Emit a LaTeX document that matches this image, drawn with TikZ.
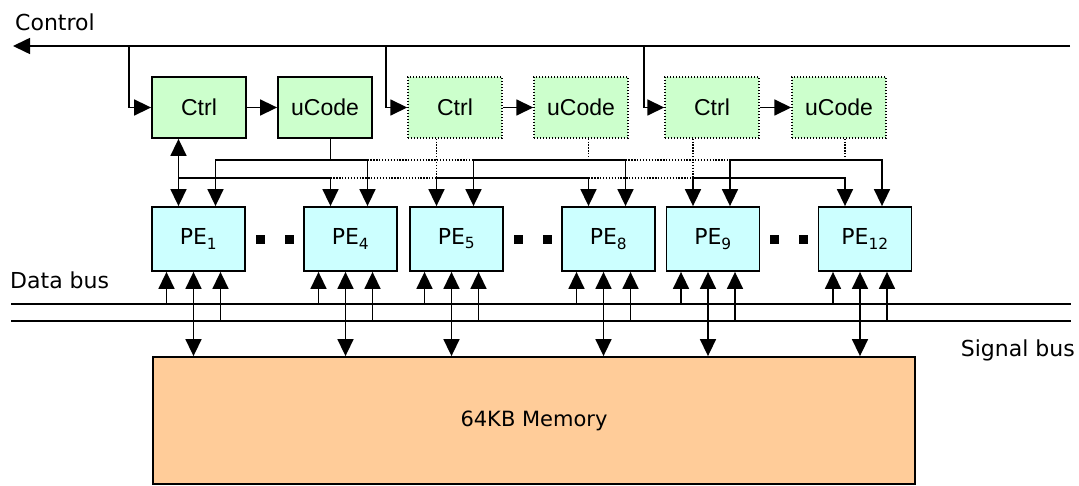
\documentclass[tikz,border=0pt]{standalone}
\usepackage{fontspec}
\setmainfont{DejaVu Sans}
\newfontfamily\arialfont{Liberation Sans}
\usepackage{tikz}
\usetikzlibrary{calc}
\usetikzlibrary{arrows.meta}
\definecolor{ctrlgreen}{HTML}{CCFFCC}
\definecolor{pecyan}{HTML}{CCFFFF}
\definecolor{memorange}{HTML}{FFCC99}
\tikzset{
  wire/.style={line width=1.6pt},
  ghostwire/.style={line width=1.3pt, dash pattern=on 1.3pt off 1.6pt},
  tip/.style={-{Triangle[length=17pt,width=16pt]}},
  tips/.style={{Triangle[length=17pt,width=16pt]}-{Triangle[length=17pt,width=16pt]}},
  ctrlbox/.style={draw, line width=1.8pt, fill=ctrlgreen, minimum width=94pt, minimum height=61pt, inner sep=0pt, font=\arialfont\fontsize{23}{26}\selectfont},
  ghostbox/.style={ctrlbox, line width=1.4pt, dash pattern=on 1.4pt off 1.6pt},
  pebox/.style={draw, line width=1.8pt, fill=pecyan, minimum width=93pt, minimum height=64pt, inner sep=0pt, font=\fontsize{22}{24}\selectfont},
  membox/.style={draw, line width=1.8pt, fill=memorange, minimum width=762pt, minimum height=127pt, font=\fontsize{21}{24}\selectfont},
  lbl/.style={inner sep=0pt, font=\fontsize{22}{24}\selectfont},
  sqdot/.style={fill, minimum size=9pt, inner sep=0pt},
}
% three taps under one PE: data bus, memory, signal bus
\newcommand{\pelinks}[1]{
  \coordinate (#1l) at ($(#1.south)+(-32,0)$);
  \coordinate (#1m) at ($(#1.south)+(-5,0)$);
  \coordinate (#1r) at ($(#1.south)+(22,0)$);
  \draw[wire,tip] (#1l |- dbusL) -- (#1l);
  \draw[wire,tips] (#1m) -- (#1m |- mem.north);
  \draw[wire,tip] (#1r |- sbusL) -- (#1r);}

\begin{document}
\begin{tikzpicture}[x=1pt,y=-1pt]
  \useasboundingbox (0,0) rectangle (1079,486);

  % buses
  \coordinate (ctlR) at (1070,46);
  \coordinate (ctlL) at (13,46);
  \coordinate (dbusL) at (11,304);
  \coordinate (dbusR) at (1071,304);
  \coordinate (sbusL) at (11,321);
  \coordinate (sbusR) at (1071,321);
  \coordinate (ubus) at (0,160);
  \coordinate (kbus) at (0,178);
  \draw[wire,tip] (ctlR) -- (ctlL);
  \draw[wire] (dbusL) -- (dbusR);
  \draw[wire] (sbusL) -- (sbusR);
  \node[lbl,anchor=base west] (ctltext) at (15,31) {Control};
  \node[lbl,anchor=base west] (dbustext) at (10,289) {Data bus};
  \node[lbl,anchor=base east] (sbustext) at (1075,356) {Signal bus};

  % sequencers
  \node[ctrlbox] (ctrl1) at (199,107.5) {Ctrl};
  \node[ctrlbox] (ucode1) at (325,107.5) {uCode};
  \node[ghostbox] (ctrl2) at (455,107.5) {Ctrl};
  \node[ghostbox] (ucode2) at (581,107.5) {uCode};
  \node[ghostbox] (ctrl3) at (712,107.5) {Ctrl};
  \node[ghostbox] (ucode3) at (839,107.5) {uCode};

  % PE row and memory
  \node[pebox] (pe1) at (198.5,239) {PE\textsubscript{1}};
  \node[pebox] (pe4) at (350.5,239) {PE\textsubscript{4}};
  \node[pebox] (pe5) at (456.5,239) {PE\textsubscript{5}};
  \node[pebox] (pe8) at (608.5,239) {PE\textsubscript{8}};
  \node[pebox] (pe9) at (713,239) {PE\textsubscript{9}};
  \node[pebox] (pe12) at (865,239) {PE\textsubscript{12}};
  \node[membox] (mem) at (534,420.5) {64KB Memory};

  \coordinate (tap1) at (129,46);
  \coordinate (tap2) at (386,46);
  \coordinate (tap3) at (644,46);
  \foreach \n in {1,2,3} {
    \draw[wire,tip] (tap\n) |- (ctrl\n.west);
    \draw[wire,tip] (ctrl\n) -- (ucode\n);
  }

  \foreach \a/\b/\n in {pe1/pe4/1,pe5/pe8/2,pe9/pe12/3} {
    \coordinate (ka\n) at ($(\a.north)+(-20,0)$);
    \coordinate (kb\n) at ($(\b.north)+(-20,0)$);
    \coordinate (ua\n) at ($(\a.north)+(17,0)$);
    \coordinate (ub\n) at ($(\b.north)+(17,0)$);
    \draw[wire,tips] (ka\n) -- (ka\n |- kbus) -- (kb\n |- kbus) -- (kb\n);
    \draw[wire,tips] (ua\n) -- (ua\n |- ubus) -- (ub\n |- ubus) -- (ub\n);
    \node[sqdot] (\a dl) at ($(\a.east)!0.5!(\b.west)+(-14.5,1)$) {};
    \node[sqdot] (\a dr) at ($(\a.east)!0.5!(\b.west)+(14.5,1)$) {};
  }
  \draw[wire,tip] (ka1 |- kbus) -- (ka1 |- ctrl1.south);
  \draw[wire] (ucode1.south -| kb1) -- (kb1 |- ubus);
  \foreach \n in {2,3} {
    \draw[ghostwire] (ctrl\n.south -| ka\n) -- (ka\n |- kbus);
    \draw[ghostwire] (ucode\n.south -| kb\n) -- (kb\n |- ubus);
  }
  \draw[ghostwire] (kb1 |- kbus) -- (ka2 |- kbus);
  \draw[ghostwire] (kb2 |- kbus) -- (ka3 |- kbus);
  \draw[ghostwire] (ub1 |- ubus) -- (ua2 |- ubus);
  \draw[ghostwire] (ub2 |- ubus) -- (ua3 |- ubus);

  \foreach \p in {pe1,pe4,pe5,pe8,pe9,pe12} {\pelinks{\p}}
\end{tikzpicture}
\end{document}
